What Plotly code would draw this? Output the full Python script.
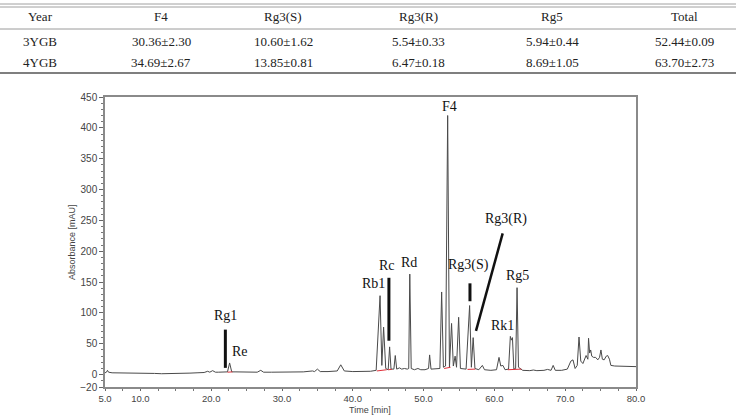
import plotly.graph_objects as go

# ---------------- data ----------------
table_header = ["Year", "F4", "Rg3(S)", "Rg3(R)", "Rg5", "Total"]
row_3ygb = ["3YGB", "30.36±2.30", "10.60±1.62", "5.54±0.33", "5.94±0.44", "52.44±0.09"]
row_4ygb = ["4YGB", "34.69±2.67", "13.85±0.81", "6.47±0.18", "8.69±1.05", "63.70±2.73"]

time_min = [5.0, 5.2, 5.35, 5.5, 6.0, 7.0, 8.0, 9.0, 10.0, 11.0, 12.0, 13.0, 14.0, 15.0,
            16.0, 17.0, 18.0, 19.0, 19.5, 19.8, 20.2, 20.6, 21.0, 21.8, 22.3, 22.6, 22.9,
            23.5, 24.5, 25.5, 26.5, 27.0, 27.4, 28.5, 30.0, 31.5, 33.0, 34.3, 34.6, 35.0,
            35.4, 36.5, 37.8, 38.3, 38.8, 40.0, 41.5, 42.5, 43.3, 43.85, 44.1, 44.35, 44.65,
            45.0, 45.2, 45.4, 45.8, 46.0, 46.2, 46.6, 46.9, 47.3, 47.7, 47.9, 48.05, 48.25,
            48.7, 49.2, 49.6, 50.2, 50.7, 50.85, 51.05, 51.8, 52.3, 52.55, 52.8, 53.1, 53.4,
            53.65, 53.95, 54.2, 54.45, 54.65, 54.95, 55.2, 55.6, 56.0, 56.5, 56.75, 57.0,
            57.25, 57.8, 58.3, 58.6, 59.5, 60.3, 60.65, 60.9, 61.2, 61.5, 62.0, 62.25, 62.4,
            62.55, 62.75, 63.0, 63.2, 63.4, 63.6, 64.0, 65.0, 65.5, 66.0, 67.0, 67.5, 68.0,
            68.3, 68.6, 69.5, 70.3, 70.8, 71.1, 71.4, 71.7, 71.95, 72.2, 72.5, 72.8, 72.95,
            73.2, 73.3, 73.45, 73.6, 73.75, 74.0, 74.3, 74.6, 74.85, 75.05, 75.25, 75.5,
            75.8, 76.0, 76.25, 76.45, 77.0, 78.0, 79.0, 80.0]
absorbance_mau = [3, 4, 7, 4, 3, 3, 3, 2.5, 2.5, 2, 2, 1.5, 1.5, 1.5,
                  2, 2.5, 3, 3.5, 5.5, 4, 6.5, 4, 4, 4, 4.5, 19, 4.5,
                  4.5, 4.5, 4, 4, 7, 4, 4, 4, 4.5, 4.5, 6, 5, 9,
                  5, 5, 6, 16, 6, 5, 5, 5.5, 7, 128, 15, 77, 10,
                  8, 45, 9, 9, 31, 9, 11, 9, 10, 9, 10, 163, 10,
                  8, 10, 8, 8, 10, 32, 9, 9, 10, 134, 12, 14, 420,
                  12, 83, 14, 30, 12, 93, 10, 9, 9, 112, 12, 60,
                  10, 8, 15, 8, 7, 8, 28, 14, 15, 8, 9, 62, 56,
                  60, 9, 10, 141, 12, 10, 7, 6.5, 7.5, 6.5, 7, 8.5, 7,
                  15, 7, 7, 9, 22, 24, 10, 15, 61, 22, 18, 28, 31,
                  25, 59, 35, 40, 30, 28, 28, 24, 28, 40, 25, 24,
                  30, 31, 25, 15, 14, 13.5, 13, 13]

# integration baseline marks (red)
integ_time = [22.3, 23.0, None, 43.4, 44.8, None, 45.0, 45.5, None, 52.9, 53.8, None,
              56.2, 57.3, None, 61.9, 63.8]
integ_abs = [4, 4.5, None, 6, 8, None, 8, 8.5, None, 10, 12, None, 8.5, 9, None, 8, 9]

x_tickvals = [5, 10, 20, 30, 40, 50, 60, 70, 80]
x_ticktext = ["5.0", "10.0", "20.0", "30.0", "40.0", "50.0", "60.0", "70.0", "80.0"]
y_tickvals = [-20, 0, 50, 100, 150, 200, 250, 300, 350, 400, 450]

# ---------------- layout helpers ----------------
W, H = 736, 415
PL, PR, PT, PB = 105, 636, 97, 387


def px(x):
    return (x - PL) / (PR - PL)


def py(y):
    return (PB - y) / (PB - PT)


fig = go.Figure()
fig.add_trace(go.Scatter(x=time_min, y=absorbance_mau, mode="lines",
                         line=dict(color="#4a4a4a", width=1), showlegend=False,
                         hoverinfo="skip"))
fig.add_trace(go.Scatter(x=integ_time, y=integ_abs, mode="lines",
                         line=dict(color="#e0303a", width=1), showlegend=False,
                         hoverinfo="skip", connectgaps=False))

annotations = []
shapes = []

# ---- table ----
col_x = [40, 161, 283, 418, 552, 684]
row_y = [17, 41, 62]
serif = "Liberation Serif"
for r, row in zip(row_y, [table_header, row_3ygb, row_4ygb]):
    for cx, txt in zip(col_x, row):
        annotations.append(dict(text=txt, x=px(cx), y=py(r), xref="paper", yref="paper",
                                xanchor="center", yanchor="middle", showarrow=False,
                                font=dict(family=serif, size=13, color="#222")))
for ly, col, wd in [(4, "#a0a0a0", 1), (7, "#a0a0a0", 1), (29, "#9a9a9a", 1), (73, "#555", 1.5)]:
    shapes.append(dict(type="line", xref="paper", yref="paper", x0=px(0), x1=px(W),
                       y0=py(ly), y1=py(ly), line=dict(color=col, width=wd)))

# ---- peak labels ----
peak_labels = [("Rg1", 22.0, 96), ("Re", 24.0, 37), ("Rb1", 42.9, 148), ("Rc", 44.9, 177),
               ("Rd", 48.0, 182), ("F4", 53.6, 434), ("Rg3(S)", 56.3, 177),
               ("Rg3(R)", 61.6, 253), ("Rk1", 61.2, 80), ("Rg5", 63.2, 161)]
for txt, t, a in peak_labels:
    annotations.append(dict(text=txt, x=t, y=a, xref="x", yref="y", showarrow=False,
                            xanchor="center", yanchor="middle",
                            font=dict(family=serif, size=14, color="#111")))

marker_lines = [(22.0, 73, 22.0, 11, 3), (45.1, 157, 45.1, 55, 3),
                (56.55, 148, 56.55, 119, 3), (61.17, 229, 57.4, 71, 2.5)]
for x0, y0, x1, y1, w in marker_lines:
    shapes.append(dict(type="line", xref="x", yref="y", x0=x0, y0=y0, x1=x1, y1=y1,
                       line=dict(color="#111", width=w)))

# ---- axis titles ----
sans = "Liberation Sans"
annotations.append(dict(text="Time [min]", x=px(370), y=py(416), xref="paper", yref="paper",
                        showarrow=False, xanchor="center", yanchor="bottom", borderpad=0,
                        font=dict(family=sans, size=9, color="#444")))
annotations.append(dict(text="Absorbance [mAU]", x=px(72), y=0.5, xref="paper", yref="paper",
                        showarrow=False, xanchor="center", yanchor="middle", textangle=-90,
                        font=dict(family=sans, size=9, color="#444")))

fig.update_layout(
    width=W, height=H,
    margin=dict(l=PL, r=W - PR, t=PT, b=H - PB),
    paper_bgcolor="white", plot_bgcolor="white",
    annotations=annotations, shapes=shapes,
    xaxis=dict(range=[5, 80], tickvals=x_tickvals, ticktext=x_ticktext,
               ticks="outside", ticklen=2, tickcolor="#666", showgrid=False, zeroline=False,
               showline=True, linecolor="#8a8a8a", linewidth=1.5, mirror=True,
               tickfont=dict(family=sans, size=9.5, color="#444"),
               minor=dict(ticks="outside", ticklen=2, tickcolor="#777",
                          tickvals=[7.5, 12.5, 15, 17.5, 22.5, 25, 27.5, 32.5, 35, 37.5,
                                    42.5, 45, 47.5, 52.5, 55, 57.5, 62.5, 65, 67.5,
                                    72.5, 75, 77.5])),
    yaxis=dict(range=[-20, 450], tickvals=y_tickvals,
               ticks="outside", ticklen=4, tickcolor="#666", showgrid=False, zeroline=False,
               showline=True, linecolor="#8a8a8a", linewidth=1.5, mirror=True,
               tickfont=dict(family=sans, size=10, color="#444"),
               minor=dict(ticks="outside", ticklen=2, tickcolor="#777", dtick=10, tick0=0)),
)

fig.write_html("out.html")
